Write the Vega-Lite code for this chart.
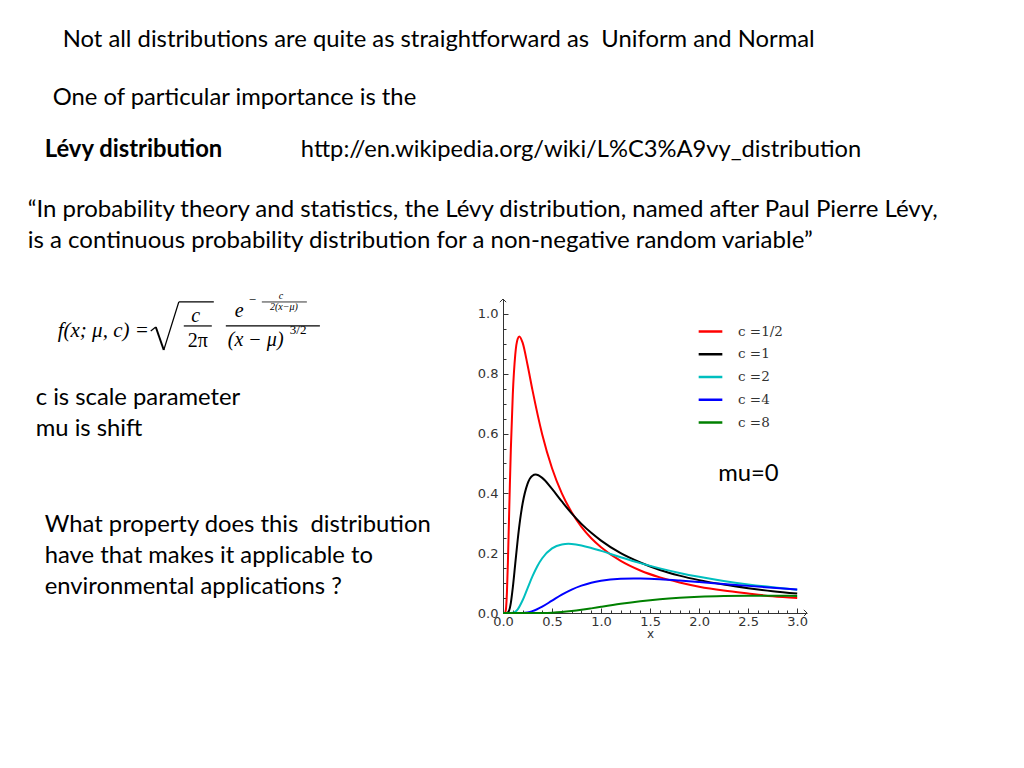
{
  "$schema": "https://vega.github.io/schema/vega-lite/v6.json",
  "autosize": {"type": "none"},
  "padding": {"left": 503, "top": 299, "right": 217, "bottom": 155},
  "width": 304,
  "height": 314,
  "background": "white",
  "config": {"view": {"stroke": null}},
  "resolve": {"axis": {"x": "independent", "y": "independent"}},
  "layer": [
    {
      "data": {"values": [
        {"c": "c =1/2", "x": 0, "y": 0}, {"c": "c =1/2", "x": 0.01, "y": 0}, {"c": "c =1/2", "x": 0.02, "y": 0.0004}, {"c": "c =1/2", "x": 0.03, "y": 0.013}, {"c": "c =1/2", "x": 0.04, "y": 0.068}, {"c": "c =1/2", "x": 0.05, "y": 0.170}, {"c": "c =1/2", "x": 0.06, "y": 0.298}, {"c": "c =1/2", "x": 0.07, "y": 0.428}, {"c": "c =1/2", "x": 0.08, "y": 0.548}, {"c": "c =1/2", "x": 0.1, "y": 0.732}, {"c": "c =1/2", "x": 0.125, "y": 0.864}, {"c": "c =1/2", "x": 0.15, "y": 0.917}, {"c": "c =1/2", "x": 0.167, "y": 0.925}, {"c": "c =1/2", "x": 0.2, "y": 0.904}, {"c": "c =1/2", "x": 0.25, "y": 0.830}, {"c": "c =1/2", "x": 0.3, "y": 0.746}, {"c": "c =1/2", "x": 0.4, "y": 0.597}, {"c": "c =1/2", "x": 0.5, "y": 0.484}, {"c": "c =1/2", "x": 0.6, "y": 0.400}, {"c": "c =1/2", "x": 0.7, "y": 0.337}, {"c": "c =1/2", "x": 0.8, "y": 0.288}, {"c": "c =1/2", "x": 0.9, "y": 0.250}, {"c": "c =1/2", "x": 1.0, "y": 0.220}, {"c": "c =1/2", "x": 1.2, "y": 0.174}, {"c": "c =1/2", "x": 1.4, "y": 0.142}, {"c": "c =1/2", "x": 1.6, "y": 0.119}, {"c": "c =1/2", "x": 1.8, "y": 0.102}, {"c": "c =1/2", "x": 2.0, "y": 0.088}, {"c": "c =1/2", "x": 2.25, "y": 0.075}, {"c": "c =1/2", "x": 2.5, "y": 0.065}, {"c": "c =1/2", "x": 2.75, "y": 0.056}, {"c": "c =1/2", "x": 3.0, "y": 0.050},
        {"c": "c =1", "x": 0, "y": 0}, {"c": "c =1", "x": 0.02, "y": 0}, {"c": "c =1", "x": 0.04, "y": 0.0002}, {"c": "c =1", "x": 0.06, "y": 0.0065}, {"c": "c =1", "x": 0.08, "y": 0.034}, {"c": "c =1", "x": 0.1, "y": 0.085}, {"c": "c =1", "x": 0.125, "y": 0.165}, {"c": "c =1", "x": 0.15, "y": 0.245}, {"c": "c =1", "x": 0.175, "y": 0.313}, {"c": "c =1", "x": 0.2, "y": 0.366}, {"c": "c =1", "x": 0.25, "y": 0.432}, {"c": "c =1", "x": 0.3, "y": 0.459}, {"c": "c =1", "x": 0.333, "y": 0.463}, {"c": "c =1", "x": 0.4, "y": 0.452}, {"c": "c =1", "x": 0.5, "y": 0.415}, {"c": "c =1", "x": 0.6, "y": 0.373}, {"c": "c =1", "x": 0.7, "y": 0.333}, {"c": "c =1", "x": 0.8, "y": 0.298}, {"c": "c =1", "x": 0.9, "y": 0.268}, {"c": "c =1", "x": 1.0, "y": 0.242}, {"c": "c =1", "x": 1.2, "y": 0.200}, {"c": "c =1", "x": 1.4, "y": 0.169}, {"c": "c =1", "x": 1.6, "y": 0.144}, {"c": "c =1", "x": 1.8, "y": 0.125}, {"c": "c =1", "x": 2.0, "y": 0.110}, {"c": "c =1", "x": 2.25, "y": 0.095}, {"c": "c =1", "x": 2.5, "y": 0.083}, {"c": "c =1", "x": 2.75, "y": 0.073}, {"c": "c =1", "x": 3.0, "y": 0.065},
        {"c": "c =2", "x": 0, "y": 0}, {"c": "c =2", "x": 0.05, "y": 0}, {"c": "c =2", "x": 0.1, "y": 0.0008}, {"c": "c =2", "x": 0.125, "y": 0.0043}, {"c": "c =2", "x": 0.15, "y": 0.0124}, {"c": "c =2", "x": 0.2, "y": 0.0425}, {"c": "c =2", "x": 0.25, "y": 0.0827}, {"c": "c =2", "x": 0.3, "y": 0.1225}, {"c": "c =2", "x": 0.35, "y": 0.1565}, {"c": "c =2", "x": 0.4, "y": 0.1831}, {"c": "c =2", "x": 0.5, "y": 0.2160}, {"c": "c =2", "x": 0.6, "y": 0.2293}, {"c": "c =2", "x": 0.667, "y": 0.2313}, {"c": "c =2", "x": 0.7, "y": 0.2309}, {"c": "c =2", "x": 0.8, "y": 0.2259}, {"c": "c =2", "x": 0.9, "y": 0.2175}, {"c": "c =2", "x": 1.0, "y": 0.2076}, {"c": "c =2", "x": 1.2, "y": 0.1865}, {"c": "c =2", "x": 1.4, "y": 0.1667}, {"c": "c =2", "x": 1.6, "y": 0.1492}, {"c": "c =2", "x": 1.8, "y": 0.1340}, {"c": "c =2", "x": 2.0, "y": 0.1210}, {"c": "c =2", "x": 2.25, "y": 0.1072}, {"c": "c =2", "x": 2.5, "y": 0.0957}, {"c": "c =2", "x": 2.75, "y": 0.0860}, {"c": "c =2", "x": 3.0, "y": 0.0778},
        {"c": "c =4", "x": 0, "y": 0}, {"c": "c =4", "x": 0.1, "y": 0}, {"c": "c =4", "x": 0.2, "y": 0.0004}, {"c": "c =4", "x": 0.25, "y": 0.0021}, {"c": "c =4", "x": 0.3, "y": 0.0062}, {"c": "c =4", "x": 0.4, "y": 0.0213}, {"c": "c =4", "x": 0.5, "y": 0.0413}, {"c": "c =4", "x": 0.6, "y": 0.0612}, {"c": "c =4", "x": 0.7, "y": 0.0782}, {"c": "c =4", "x": 0.8, "y": 0.0915}, {"c": "c =4", "x": 0.9, "y": 0.1013}, {"c": "c =4", "x": 1.0, "y": 0.1080}, {"c": "c =4", "x": 1.2, "y": 0.1146}, {"c": "c =4", "x": 1.333, "y": 0.1156}, {"c": "c =4", "x": 1.4, "y": 0.1154}, {"c": "c =4", "x": 1.6, "y": 0.1130}, {"c": "c =4", "x": 1.8, "y": 0.1088}, {"c": "c =4", "x": 2.0, "y": 0.1038}, {"c": "c =4", "x": 2.25, "y": 0.0972}, {"c": "c =4", "x": 2.5, "y": 0.0907}, {"c": "c =4", "x": 2.75, "y": 0.0846}, {"c": "c =4", "x": 3.0, "y": 0.0788},
        {"c": "c =8", "x": 0, "y": 0}, {"c": "c =8", "x": 0.2, "y": 0}, {"c": "c =8", "x": 0.3, "y": 0}, {"c": "c =8", "x": 0.4, "y": 0.0002}, {"c": "c =8", "x": 0.5, "y": 0.0011}, {"c": "c =8", "x": 0.6, "y": 0.0031}, {"c": "c =8", "x": 0.7, "y": 0.0064}, {"c": "c =8", "x": 0.8, "y": 0.0106}, {"c": "c =8", "x": 0.9, "y": 0.0155}, {"c": "c =8", "x": 1.0, "y": 0.0207}, {"c": "c =8", "x": 1.2, "y": 0.0306}, {"c": "c =8", "x": 1.4, "y": 0.0391}, {"c": "c =8", "x": 1.6, "y": 0.0458}, {"c": "c =8", "x": 1.8, "y": 0.0506}, {"c": "c =8", "x": 2.0, "y": 0.0540}, {"c": "c =8", "x": 2.25, "y": 0.0565}, {"c": "c =8", "x": 2.5, "y": 0.0576}, {"c": "c =8", "x": 2.75, "y": 0.0578}, {"c": "c =8", "x": 3.0, "y": 0.0572}
      ]},
      "mark": {"type": "line", "strokeWidth": 2, "interpolate": "monotone"},
      "encoding": {
        "x": {
          "field": "x", "type": "quantitative",
          "scale": {"domain": [0, 3.1], "nice": false, "zero": false},
          "axis": {
            "orient": "bottom",
            "values": [0, 0.5, 1.0, 1.5, 2.0, 2.5, 3.0], "format": ".1f",
            "ticks": false, "grid": false, "domainColor": "#333333", "labelColor": "#333333",
            "labelFont": "DejaVu Sans", "labelFontSize": 13, "labelPadding": 2, "labelFlush": false, "labelOverlap": false,
            "title": "x", "titleFont": "DejaVu Sans", "titleFontSize": 12, "titleFontWeight": "normal", "titleColor": "#333333", "titlePadding": 0, "titleX": 147
          }
        },
        "y": {
          "field": "y", "type": "quantitative",
          "scale": {"domain": [0, 1.05], "nice": false, "zero": false},
          "axis": {
            "orient": "left",
            "values": [0, 0.2, 0.4, 0.6, 0.8, 1.0], "format": ".1f",
            "ticks": false, "grid": false, "domainColor": "#333333", "labelColor": "#333333",
            "labelFont": "DejaVu Sans", "labelFontSize": 13, "labelPadding": 5, "labelFlush": false, "labelOverlap": false,
            "title": null
          }
        },
        "color": {
          "field": "c", "type": "nominal",
          "scale": {"domain": ["c =1/2", "c =1", "c =2", "c =4", "c =8"], "range": ["#ff0000", "#000000", "#00bfbf", "#0000ff", "#008000"]},
          "legend": {
            "title": null, "orient": "none", "legendX": 194, "legendY": 19,
            "symbolType": "stroke", "symbolSize": 560, "symbolStrokeWidth": 2.5,
            "labelFont": "DejaVu Serif", "labelFontSize": 13.5, "labelColor": "#333333",
            "labelOffset": 14, "rowPadding": 2.75, "padding": 0
          }
        }
      }
    },
    {
      "data": {"values": [{}]},
      "mark": {"type": "point", "shape": "M-1,-1L0,0L-1,1", "filled": false, "stroke": "#333333", "strokeWidth": 1, "size": 40, "opacity": 1},
      "encoding": {
        "x": {"datum": 3.1, "axis": {"orient": "top", "offset": -314, "values": [0, 0.5, 1.0, 1.5, 2.0, 2.5, 3.0], "labels": false, "domain": false, "grid": false, "ticks": true, "tickSize": 5, "tickColor": "#333333", "title": null}},
        "y": {"datum": 0, "axis": {"orient": "right", "offset": -304, "values": [0, 0.2, 0.4, 0.6, 0.8, 1.0], "labels": false, "domain": false, "grid": false, "ticks": true, "tickSize": 5, "tickColor": "#333333", "title": null}}
      }
    },
    {
      "data": {"values": [{}]},
      "mark": {"type": "point", "shape": "M-1,1L0,0L1,1", "filled": false, "stroke": "#333333", "strokeWidth": 1, "size": 40, "opacity": 1},
      "encoding": {
        "x": {"datum": 0, "axis": {"orient": "top", "offset": -314, "values": [0.1, 0.2, 0.3, 0.4, 0.6, 0.7, 0.8, 0.9, 1.1, 1.2, 1.3, 1.4, 1.6, 1.7, 1.8, 1.9, 2.1, 2.2, 2.3, 2.4, 2.6, 2.7, 2.8, 2.9], "labels": false, "domain": false, "grid": false, "ticks": true, "tickSize": 3, "tickColor": "#333333", "title": null}},
        "y": {"datum": 1.05, "axis": {"orient": "right", "offset": -304, "values": [0.05, 0.1, 0.15, 0.25, 0.3, 0.35, 0.45, 0.5, 0.55, 0.65, 0.7, 0.75, 0.85, 0.9, 0.95], "labels": false, "domain": false, "grid": false, "ticks": true, "tickSize": 3, "tickColor": "#333333", "title": null}}
      }
    },
    {
      "data": {"values": [{"label": "mu=0"}]},
      "mark": {"type": "text", "align": "left", "baseline": "alphabetic", "font": "Lato", "fontSize": 23.8, "color": "black"},
      "encoding": {"x": {"datum": 2.1939, "axis": null}, "y": {"datum": 0.4415, "axis": null}, "text": {"field": "label"}}
    },
    {
      "data": {"values": [{"label": "Not all distributions are quite as straightforward as\u00a0 Uniform and Normal"}]},
      "mark": {"type": "text", "align": "left", "baseline": "alphabetic", "font": "Lato", "fontSize": 23.8, "color": "black"},
      "encoding": {"x": {"datum": -4.4898, "axis": null}, "y": {"datum": 1.8930, "axis": null}, "text": {"field": "label"}}
    },
    {
      "data": {"values": [{"label": "One of particular importance is the"}]},
      "mark": {"type": "text", "align": "left", "baseline": "alphabetic", "font": "Lato", "fontSize": 23.8, "color": "black"},
      "encoding": {"x": {"datum": -4.5918, "axis": null}, "y": {"datum": 1.6990, "axis": null}, "text": {"field": "label"}}
    },
    {
      "data": {"values": [{"label": "Lévy distribution"}]},
      "mark": {"type": "text", "align": "left", "baseline": "alphabetic", "font": "Lato", "fontSize": 23.8, "fontWeight": "bold", "color": "black"},
      "encoding": {"x": {"datum": -4.6735, "axis": null}, "y": {"datum": 1.5251, "axis": null}, "text": {"field": "label"}}
    },
    {
      "data": {"values": [{"label": "http://en.wikipedia.org/wiki/L%C3%A9vy_distribution"}]},
      "mark": {"type": "text", "align": "left", "baseline": "alphabetic", "font": "Lato", "fontSize": 23.7, "color": "black"},
      "encoding": {"x": {"datum": -2.0612, "axis": null}, "y": {"datum": 1.5251, "axis": null}, "text": {"field": "label"}}
    },
    {
      "data": {"values": [{"label": ["“In probability theory and statistics, the Lévy distribution, named after Paul Pierre Lévy,", "is a continuous probability distribution for a non-negative random variable”"]}]},
      "mark": {"type": "text", "align": "left", "baseline": "alphabetic", "font": "Lato", "fontSize": 24, "lineHeight": 31, "color": "black"},
      "encoding": {"x": {"datum": -4.8469, "axis": null}, "y": {"datum": 1.3244, "axis": null}, "text": {"field": "label"}}
    },
    {
      "data": {"values": [{"label": ["c is scale parameter", "mu is shift"]}]},
      "mark": {"type": "text", "align": "left", "baseline": "alphabetic", "font": "Lato", "fontSize": 23.8, "lineHeight": 31, "color": "black"},
      "encoding": {"x": {"datum": -4.7653, "axis": null}, "y": {"datum": 0.6957, "axis": null}, "text": {"field": "label"}}
    },
    {
      "data": {"values": [{"label": ["What property does this\u00a0 distribution", "have that makes it applicable to", "environmental applications ?"]}]},
      "mark": {"type": "text", "align": "left", "baseline": "alphabetic", "font": "Lato", "fontSize": 23.8, "lineHeight": 31, "color": "black"},
      "encoding": {"x": {"datum": -4.6735, "axis": null}, "y": {"datum": 0.2709, "axis": null}, "text": {"field": "label"}}
    },
    {
      "data": {"values": [{"label": "f(x; μ, c) ="}]},
      "mark": {"type": "text", "align": "left", "baseline": "alphabetic", "font": "Liberation Serif", "fontSize": 21, "fontStyle": "italic", "color": "black"},
      "encoding": {"x": {"datum": -4.5408, "axis": null}, "y": {"datum": 0.9231, "axis": null}, "text": {"field": "label"}}
    },
    {
      "data": {"values": [{}]},
      "mark": {"type": "rule", "color": "black", "strokeWidth": 1.2},
      "encoding": {"x": {"datum": -3.5918, "axis": null}, "y": {"datum": 0.9431, "axis": null}, "x2": {"datum": -3.5408}, "y2": {"datum": 0.9565}}
    },
    {
      "data": {"values": [{}]},
      "mark": {"type": "rule", "color": "black", "strokeWidth": 2},
      "encoding": {"x": {"datum": -3.5408, "axis": null}, "y": {"datum": 0.9565, "axis": null}, "x2": {"datum": -3.4592}, "y2": {"datum": 0.8796}}
    },
    {
      "data": {"values": [{}]},
      "mark": {"type": "rule", "color": "black", "strokeWidth": 1.2},
      "encoding": {"x": {"datum": -3.4592, "axis": null}, "y": {"datum": 0.8796, "axis": null}, "x2": {"datum": -3.3061}, "y2": {"datum": 1.0401}}
    },
    {
      "data": {"values": [{}]},
      "mark": {"type": "rule", "color": "black", "strokeWidth": 1.2},
      "encoding": {"x": {"datum": -3.3061, "axis": null}, "y": {"datum": 1.0401, "axis": null}, "x2": {"datum": -2.9490}, "y2": {"datum": 1.0401}}
    },
    {
      "data": {"values": [{"label": "c"}]},
      "mark": {"type": "text", "align": "center", "baseline": "alphabetic", "font": "Liberation Serif", "fontSize": 20, "fontStyle": "italic", "color": "black"},
      "encoding": {"x": {"datum": -3.1327, "axis": null}, "y": {"datum": 0.9742, "axis": null}, "text": {"field": "label"}}
    },
    {
      "data": {"values": [{}]},
      "mark": {"type": "rule", "color": "black", "strokeWidth": 1.2},
      "encoding": {"x": {"datum": -3.2551, "axis": null}, "x2": {"datum": -2.9694}, "y": {"datum": 0.9599, "axis": null}}
    },
    {
      "data": {"values": [{"label": "2π"}]},
      "mark": {"type": "text", "align": "center", "baseline": "alphabetic", "font": "Liberation Serif", "fontSize": 20, "color": "black"},
      "encoding": {"x": {"datum": -3.1122, "axis": null}, "y": {"datum": 0.8906, "axis": null}, "text": {"field": "label"}}
    },
    {
      "data": {"values": [{"label": "e"}]},
      "mark": {"type": "text", "align": "left", "baseline": "alphabetic", "font": "Liberation Serif", "fontSize": 20, "fontStyle": "italic", "color": "black"},
      "encoding": {"x": {"datum": -2.7347, "axis": null}, "y": {"datum": 0.9900, "axis": null}, "text": {"field": "label"}}
    },
    {
      "data": {"values": [{"label": "−"}]},
      "mark": {"type": "text", "align": "left", "baseline": "alphabetic", "font": "Liberation Serif", "fontSize": 13, "color": "black"},
      "encoding": {"x": {"datum": -2.5918, "axis": null}, "y": {"datum": 1.0334, "axis": null}, "text": {"field": "label"}}
    },
    {
      "data": {"values": [{"label": "c"}]},
      "mark": {"type": "text", "align": "center", "baseline": "alphabetic", "font": "Liberation Serif", "fontSize": 10, "fontStyle": "italic", "color": "black"},
      "encoding": {"x": {"datum": -2.2653, "axis": null}, "y": {"datum": 1.0502, "axis": null}, "text": {"field": "label"}}
    },
    {
      "data": {"values": [{}]},
      "mark": {"type": "rule", "color": "black", "strokeWidth": 0.8},
      "encoding": {"x": {"datum": -2.4592, "axis": null}, "x2": {"datum": -2.0}, "y": {"datum": 1.0401, "axis": null}}
    },
    {
      "data": {"values": [{"label": "2(x−μ)"}]},
      "mark": {"type": "text", "align": "center", "baseline": "alphabetic", "font": "Liberation Serif", "fontSize": 10, "fontStyle": "italic", "color": "black"},
      "encoding": {"x": {"datum": -2.2347, "axis": null}, "y": {"datum": 1.0134, "axis": null}, "text": {"field": "label"}}
    },
    {
      "data": {"values": [{}]},
      "mark": {"type": "rule", "color": "black", "strokeWidth": 1.2},
      "encoding": {"x": {"datum": -2.8265, "axis": null}, "x2": {"datum": -1.8673}, "y": {"datum": 0.9599, "axis": null}}
    },
    {
      "data": {"values": [{"label": "(x − μ)"}]},
      "mark": {"type": "text", "align": "left", "baseline": "alphabetic", "font": "Liberation Serif", "fontSize": 20, "fontStyle": "italic", "color": "black"},
      "encoding": {"x": {"datum": -2.8061, "axis": null}, "y": {"datum": 0.8930, "axis": null}, "text": {"field": "label"}}
    },
    {
      "data": {"values": [{"label": "3/2"}]},
      "mark": {"type": "text", "align": "left", "baseline": "alphabetic", "font": "Liberation Serif", "fontSize": 13, "color": "black"},
      "encoding": {"x": {"datum": -2.1735, "axis": null}, "y": {"datum": 0.9331, "axis": null}, "text": {"field": "label"}}
    }
  ]
}
